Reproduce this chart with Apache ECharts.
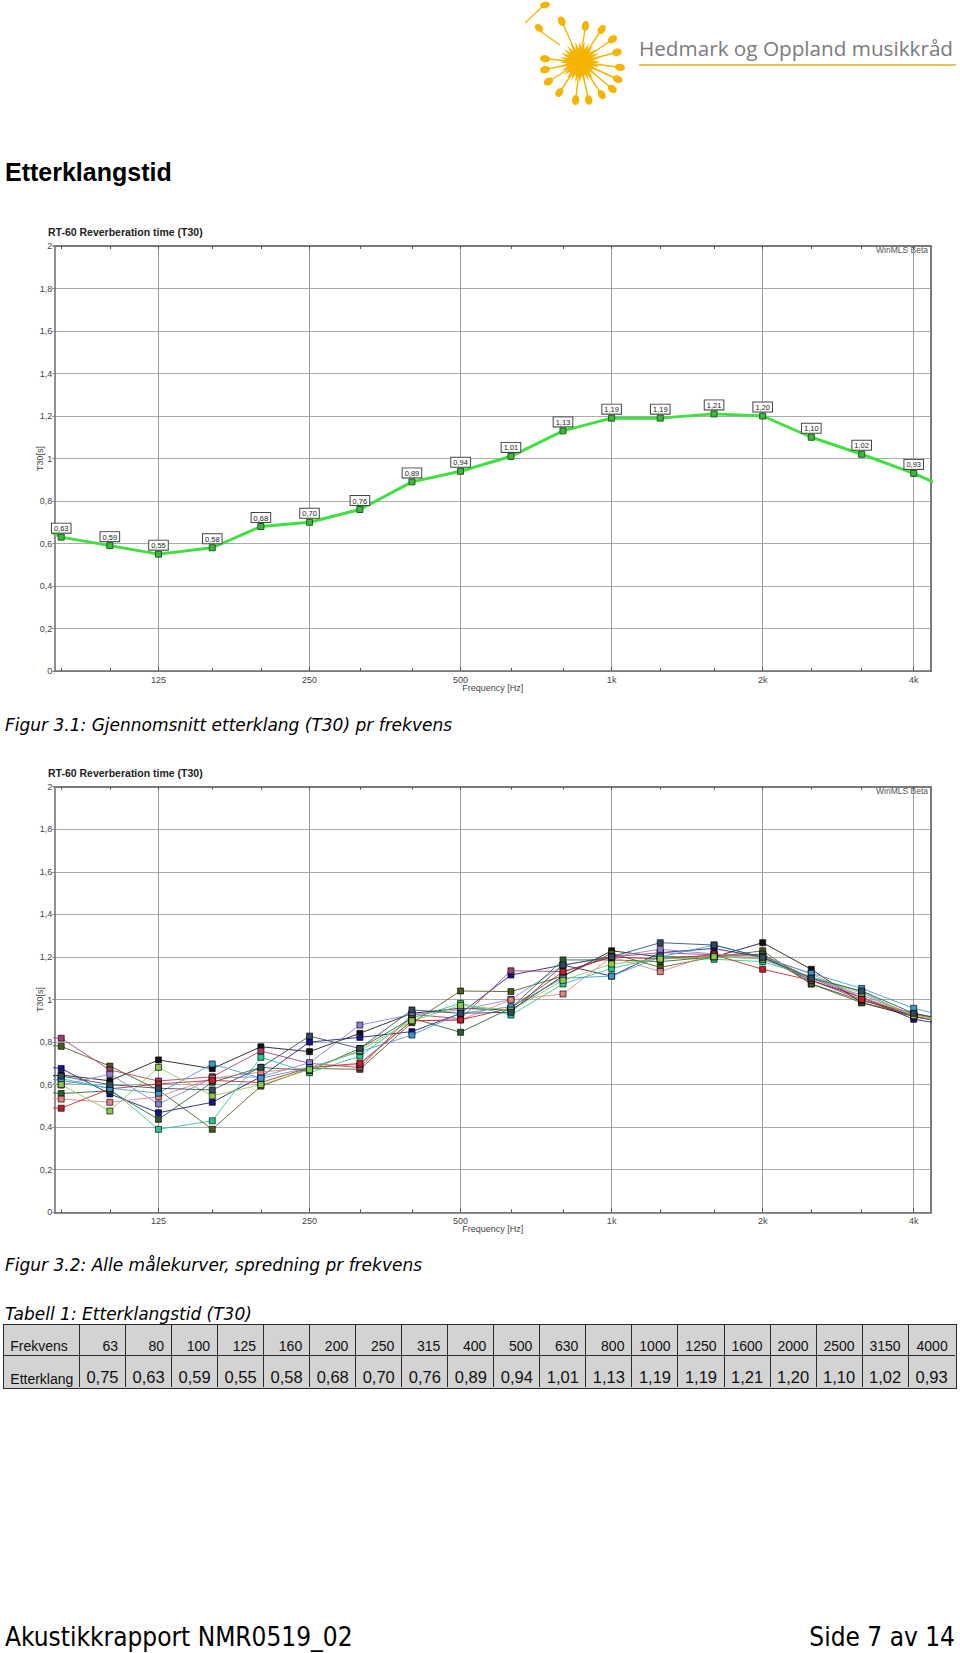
<!DOCTYPE html>
<html><head><meta charset="utf-8">
<script src="https://cdn.jsdelivr.net/npm/echarts@6/dist/echarts.min.js"></script>
<style>
html,body{margin:0;padding:0;background:#fff;}
body{width:960px;height:1653px;position:relative;overflow:hidden;}
#chart{position:absolute;left:0;top:0;width:960px;height:1653px;}
.t{position:absolute;white-space:nowrap;line-height:1;margin:0;}
#logoText{left:639px;top:38px;font-family:'Open Sans',sans-serif;font-size:20.7px;color:#7b7b7b;}
#logoLine{position:absolute;left:639px;top:64px;width:317px;height:2px;background:#e2c34e;}
#heading{left:5px;top:160px;font-family:'Liberation Sans',Arial,sans-serif;font-weight:bold;font-size:25px;color:#000;}
.cap{font-family:'DejaVu Sans',Verdana,sans-serif;font-style:italic;font-size:17px;color:#000;left:5px;}
#cap1{top:716.6px;}
#cap2{top:1257px;}
#cap3{top:1306px;}
.foot{top:1623.5px;font-family:'DejaVu Sans Condensed','DejaVu Sans',sans-serif;font-stretch:condensed;font-size:26px;color:#000;}
#footL{left:5px;}
#footR{right:5px;}
#tbl{position:absolute;left:3.3px;top:1324.3px;width:953.4px;height:64.7px;background:#d3d3d3;border:1.5px solid #2b2b2b;box-sizing:border-box;font-family:'Liberation Sans',Arial,sans-serif;color:#111;}
.cell{position:absolute;box-sizing:border-box;display:flex;align-items:flex-end;white-space:nowrap;line-height:1;}
</style></head><body>
<div id="chart"></div>
<div class="t" id="logoText">Hedmark og Oppland musikkråd</div>
<div id="logoLine"></div>
<div class="t" id="heading">Etterklangstid</div>
<div class="t cap" id="cap1">Figur 3.1: Gjennomsnitt etterklang (T30) pr frekvens</div>
<div class="t cap" id="cap2">Figur 3.2: Alle målekurver, spredning pr frekvens</div>
<div class="t cap" id="cap3">Tabell 1: Etterklangstid (T30)</div>
<div id="tbl"></div>
<div class="t foot" id="footL">Akustikkrapport NMR0519_02</div>
<div class="t foot" id="footR">Side 7 av 14</div>
<script>
// ---------------- DATA ----------------
const FREQS = [63, 80, 100, 125, 160, 200, 250, 315, 400, 500, 630, 800, 1000, 1250, 1600, 2000, 2500, 3150, 4000, 5000];
// average T30 (63..4000 from table; 5000 estimated from the clipped line end)
const AVG_T30 = [0.75, 0.63, 0.59, 0.55, 0.58, 0.68, 0.70, 0.76, 0.89, 0.94, 1.01, 1.13, 1.19, 1.19, 1.21, 1.20, 1.10, 1.02, 0.93, 0.83];

const TABLE_ROW_LABELS = ['Frekvens', 'Etterklang'];
const TABLE_FREQ_LABELS = ['63', '80', '100', '125', '160', '200', '250', '315', '400', '500', '630', '800', '1000', '1250', '1600', '2000', '2500', '3150', '4000'];
const TABLE_VALUES = [0.75, 0.63, 0.59, 0.55, 0.58, 0.68, 0.70, 0.76, 0.89, 0.94, 1.01, 1.13, 1.19, 1.19, 1.21, 1.20, 1.10, 1.02, 0.93];

const X_RANGE_HZ = [77.5, 4330];
const X_MAJOR_TICKS = [125, 250, 500, 1000, 2000, 4000];
const X_MAJOR_LABELS = ['125', '250', '500', '1k', '2k', '4k'];
const X_MINOR_TICKS = [80, 100, 125, 160, 200, 250, 315, 400, 500, 630, 800, 1000, 1250, 1600, 2000, 2500, 3150, 4000];
const Y_TICK_LABELS = ['0', '0,2', '0,4', '0,6', '0,8', '1', '1,2', '1,4', '1,6', '1,8', '2'];

// individual measurement curves (figure 3.2)
const RUN_1  = [0.62, 0.645, 0.618, 0.716, 0.675, 0.778, 0.755, 0.841, 0.935, 0.959, 0.95, 1.11, 1.229, 1.20, 1.20, 1.267, 1.142, 0.985, 0.92, 0.88];
const RUN_2  = [0.70, 0.676, 0.556, 0.468, 0.517, 0.637, 0.80, 0.822, 0.849, 0.935, 1.115, 1.162, 1.11, 1.22, 1.24, 1.198, 1.09, 1.01, 0.907, 0.87];
const RUN_3  = [0.80, 0.78, 0.687, 0.575, 0.39, 0.593, 0.676, 0.672, 0.891, 1.04, 1.037, 1.11, 1.217, 1.151, 1.20, 1.229, 1.073, 0.985, 0.93, 0.89];
const RUN_4  = [0.83, 0.818, 0.669, 0.617, 0.637, 0.758, 0.70, 0.68, 0.93, 0.91, 1.135, 1.131, 1.20, 1.22, 1.21, 1.21, 1.10, 1.01, 0.92, 0.88];
const RUN_5  = [0.60, 0.628, 0.583, 0.39, 0.43, 0.728, 0.656, 0.734, 0.912, 0.982, 0.927, 1.073, 1.146, 1.198, 1.189, 1.178, 1.107, 1.037, 0.919, 0.88];
const RUN_6  = [0.62, 0.598, 0.649, 0.509, 0.63, 0.637, 0.703, 0.88, 0.93, 0.95, 1.00, 1.16, 1.201, 1.236, 1.214, 1.19, 1.10, 1.02, 0.93, 0.89];
const RUN_7  = [0.58, 0.558, 0.571, 0.437, 0.611, 0.681, 0.666, 0.77, 0.912, 0.846, 0.96, 1.186, 1.186, 1.178, 1.20, 1.214, 1.073, 0.995, 0.935, 0.89];
const RUN_8  = [0.55, 0.532, 0.517, 0.543, 0.63, 0.659, 0.68, 0.695, 0.90, 0.904, 0.998, 1.026, 1.20, 1.131, 1.214, 1.20, 1.12, 1.01, 0.93, 0.89];
const RUN_9  = [0.50, 0.489, 0.58, 0.603, 0.62, 0.61, 0.68, 0.70, 0.90, 0.904, 0.96, 1.13, 1.20, 1.19, 1.21, 1.142, 1.09, 1.00, 0.92, 0.88];
const RUN_10 = [0.64, 0.62, 0.583, 0.56, 0.697, 0.63, 0.68, 0.755, 0.833, 0.935, 0.966, 1.10, 1.11, 1.20, 1.256, 1.198, 1.123, 1.052, 0.959, 0.90];
const RUN_11 = [0.62, 0.60, 0.476, 0.681, 0.547, 0.60, 0.67, 0.76, 0.90, 0.972, 0.95, 1.09, 1.167, 1.19, 1.201, 1.19, 1.10, 1.03, 0.925, 0.88];
const RUN_12 = [0.66, 0.64, 0.60, 0.583, 0.575, 0.681, 0.828, 0.77, 0.951, 0.935, 0.94, 1.162, 1.201, 1.267, 1.256, 1.198, 1.10, 1.04, 0.935, 0.89];
const RUNS = [RUN_1, RUN_2, RUN_3, RUN_4, RUN_5, RUN_6, RUN_7, RUN_8, RUN_9, RUN_10, RUN_11, RUN_12];
const RUN_COLORS = ['#111111', '#14148a', '#4d5a1e', '#a23c6c', '#22c890', '#8a80d2', '#2a5e2a', '#e28282', '#c41e2a', '#3a9ad0', '#8cc84a', '#2f4a5e'];

// ---------------- TABLE ----------------
(function buildTable(){
  const tbl = document.getElementById('tbl');
  const firstW = 75.7, colW = (953.4 - 1.5*2 - firstW) / 19, rowH = (64.7 - 3) / 2;
  for (let r = 0; r < 2; r++) {
    for (let c = 0; c < 20; c++) {
      const d = document.createElement('div');
      d.className = 'cell';
      const left = c === 0 ? 0 : firstW + (c - 1) * colW;
      const w = c === 0 ? firstW : colW;
      d.style.left = left + 'px';
      d.style.top = (r * rowH) + 'px';
      d.style.width = w + 'px';
      d.style.height = rowH + 'px';
      if (c < 19) d.style.borderRight = '1.5px solid #2b2b2b';
      if (r === 0) d.style.borderBottom = '1.5px solid #2b2b2b';
      let txt;
      if (c === 0) {
        txt = TABLE_ROW_LABELS[r];
        d.style.justifyContent = 'flex-start';
        d.style.paddingLeft = '6px';
        d.style.fontSize = '14px';
        d.style.paddingBottom = r === 0 ? '2.5px' : '1px';
      } else if (r === 0) {
        txt = TABLE_FREQ_LABELS[c - 1];
        d.style.justifyContent = 'flex-end';
        d.style.paddingRight = '7px';
        d.style.fontSize = '14px';
        d.style.paddingBottom = '2.5px';
      } else {
        txt = TABLE_VALUES[c - 1].toFixed(2).replace('.', ',');
        d.style.justifyContent = 'center';
        d.style.fontSize = '16.5px';
        d.style.paddingBottom = '1.5px';
      }
      d.textContent = txt;
      tbl.appendChild(d);
    }
  }
})();

// ---------------- CHARTS ----------------
const FONT = "'Liberation Sans', Arial, sans-serif";
const lx = f => Math.log2(f);
const majorLabel = v => {
  const i = X_MAJOR_TICKS.findIndex(f => Math.abs(lx(f) - v) < 1e-6);
  return i >= 0 ? X_MAJOR_LABELS[i] : '';
};

const GRIDS = [
  { left: 54.3, top: 246, width: 876.7, height: 425 },
  { left: 54.3, top: 786.7, width: 876.7, height: 425.6 }
];

function xAxesFor(g) {
  const base = { type: 'value', gridIndex: g, min: lx(X_RANGE_HZ[0]), max: lx(X_RANGE_HZ[1]) };
  return [
    Object.assign({}, base, {
      position: 'bottom', name: 'Frequency [Hz]', nameLocation: 'middle', nameGap: 12, nameMoveOverlap: false,
      nameTextStyle: { fontSize: 9, color: '#444', fontFamily: FONT },
      axisLine: { show: true, onZero: false, lineStyle: { color: '#6a6a6a', width: 1.5 } },
      axisTick: { show: true, inside: true, length: 4, customValues: X_MAJOR_TICKS.map(lx), lineStyle: { color: '#555' } },
      axisLabel: { show: true, customValues: X_MAJOR_TICKS.map(lx), formatter: majorLabel, fontSize: 9, color: '#444', margin: 4, fontFamily: FONT },
      splitLine: { show: true, lineStyle: { color: '#9a9a9a', width: 1 } }
    }),
    Object.assign({}, base, {
      position: 'bottom',
      axisLine: { show: false, onZero: false },
      axisTick: { show: true, inside: true, length: 3, customValues: X_MINOR_TICKS.map(lx), lineStyle: { color: '#555' } },
      axisLabel: { show: false }, splitLine: { show: false }
    }),
    Object.assign({}, base, {
      position: 'top',
      axisLine: { show: true, onZero: false, lineStyle: { color: '#7a7a7a', width: 2 } },
      axisTick: { show: true, inside: true, length: 3, customValues: X_MINOR_TICKS.map(lx), lineStyle: { color: '#555' } },
      axisLabel: { show: false }, splitLine: { show: false }
    })
  ];
}
function yAxesFor(g) {
  return [
    {
      type: 'value', gridIndex: g, min: 0, max: 2, interval: 0.2, position: 'left',
      name: 'T30[s]', nameLocation: 'middle', nameRotate: 90, nameGap: 10, nameMoveOverlap: false,
      nameTextStyle: { fontSize: 9, color: '#444', fontFamily: FONT },
      axisLine: { show: true, onZero: false, lineStyle: { color: '#6a6a6a', width: 1.5 } },
      axisTick: { show: true, length: 2, lineStyle: { color: '#888' } },
      axisLabel: { formatter: v => Y_TICK_LABELS[Math.round(v / 0.2)], fontSize: 9, color: '#444', margin: 2, fontFamily: FONT },
      splitLine: { show: true, lineStyle: { color: '#ababab', width: 1 } }
    },
    {
      type: 'value', gridIndex: g, min: 0, max: 2, interval: 0.2, position: 'right',
      axisLine: { show: true, onZero: false, lineStyle: { color: '#7a7a7a', width: 2 } },
      axisTick: { show: false }, axisLabel: { show: false }, splitLine: { show: false }
    }
  ];
}

const series = [];
series.push({
  type: 'line', xAxisIndex: 0, yAxisIndex: 0, clip: true, z: 5,
  data: FREQS.map((f, i) => [lx(f), AVG_T30[i]]),
  lineStyle: { color: '#3fe03f', width: 3 },
  symbol: 'rect', symbolSize: 6,
  itemStyle: { color: '#3cb83c', borderColor: '#1d5e1d', borderWidth: 1 },
  label: {
    show: true, position: 'top', distance: 1,
    formatter: p => p.value[1].toFixed(2).replace('.', ','),
    fontSize: 7.5, color: '#222', fontFamily: FONT, backgroundColor: '#fff',
    borderColor: '#444', borderWidth: 1, padding: [1, 2, 0, 2]
  }
});
RUNS.forEach((run, k) => {
  series.push({
    type: 'line', xAxisIndex: 3, yAxisIndex: 2, clip: true,
    data: FREQS.map((f, i) => [lx(f), run[i]]),
    lineStyle: { color: RUN_COLORS[k], width: 1, opacity: 0.85 },
    symbol: 'rect', symbolSize: 6,
    itemStyle: { color: RUN_COLORS[k], borderColor: 'rgba(0,0,0,0.65)', borderWidth: 1 }
  });
});

// logo (decorative)
const LOGO_C = [580, 62];
const NOTE_HEADS = [[-17,-38],[5,-33],[20,-30],[30,-21],[34,-9],[37,5],[35,16],[30,25],[20,30],[8,35],[-4,35],[-19,28],[-29,18],[-32,7],[-32,-3]];
const logo = [];
const starPts = [];
for (let i = 0; i < 56; i++) {
  const a = i / 56 * Math.PI * 2, r = i % 2 ? 13 : 21;
  starPts.push([LOGO_C[0] + r * Math.cos(a), LOGO_C[1] + r * Math.sin(a)]);
}
logo.push({ type: 'polygon', shape: { points: starPts }, style: { fill: '#f5b400' }, silent: true });
logo.push({ type: 'circle', shape: { cx: LOGO_C[0], cy: LOGO_C[1], r: 13 }, style: { fill: '#f5b400' }, silent: true });
NOTE_HEADS.forEach(([dx, dy]) => {
  const a = Math.atan2(dy, dx);
  logo.push({ type: 'line', shape: { x1: LOGO_C[0], y1: LOGO_C[1], x2: LOGO_C[0] + dx, y2: LOGO_C[1] + dy }, style: { stroke: '#f5b400', lineWidth: 1.4 }, silent: true });
  logo.push({ type: 'ellipse', shape: { cx: 0, cy: 0, rx: 5, ry: 3.6 }, x: LOGO_C[0] + dx + 3 * Math.cos(a), y: LOGO_C[1] + dy + 3 * Math.sin(a), rotation: -a, style: { fill: '#f5b400' }, silent: true });
});
// flagged notes upper-left
logo.push({ type: 'line', shape: { x1: 560, y1: 45, x2: 540, y2: 31 }, style: { stroke: '#f5b400', lineWidth: 1.4 }, silent: true });
logo.push({ type: 'ellipse', shape: { cx: 0, cy: 0, rx: 4.8, ry: 3.4 }, x: 539, y: 28, rotation: -0.7, style: { fill: '#f5b400' }, silent: true });
logo.push({ type: 'line', shape: { x1: 525, y1: 23, x2: 543, y2: 6 }, style: { stroke: '#f5b400', lineWidth: 1.3 }, silent: true });
logo.push({ type: 'ellipse', shape: { cx: 0, cy: 0, rx: 5, ry: 3.2 }, x: 545, y: 5, rotation: 0.2, style: { fill: '#f5b400' }, silent: true });

const textEls = [];
[{ ty: 232, wy: 250 }, { ty: 772.7, wy: 790.7 }].forEach(o => {
  textEls.push({ type: 'text', x: 48, y: o.ty, style: { text: 'RT-60 Reverberation time (T30)', font: "bold 10.5px " + FONT, fill: '#222', verticalAlign: 'middle', align: 'left' }, silent: true });
  textEls.push({ type: 'text', x: 928, y: o.wy, style: { text: 'WinMLS Beta', font: "8.5px " + FONT, fill: '#555', verticalAlign: 'middle', align: 'right' }, silent: true });
});

const chart = echarts.init(document.getElementById('chart'), null, { renderer: 'svg', width: 960, height: 1653 });
chart.setOption({
  animation: false,
  backgroundColor: 'transparent',
  grid: GRIDS,
  xAxis: xAxesFor(0).concat(xAxesFor(1)),
  yAxis: yAxesFor(0).concat(yAxesFor(1)),
  series: series,
  graphic: { elements: logo.concat(textEls) }
});
</script>
</body></html>
